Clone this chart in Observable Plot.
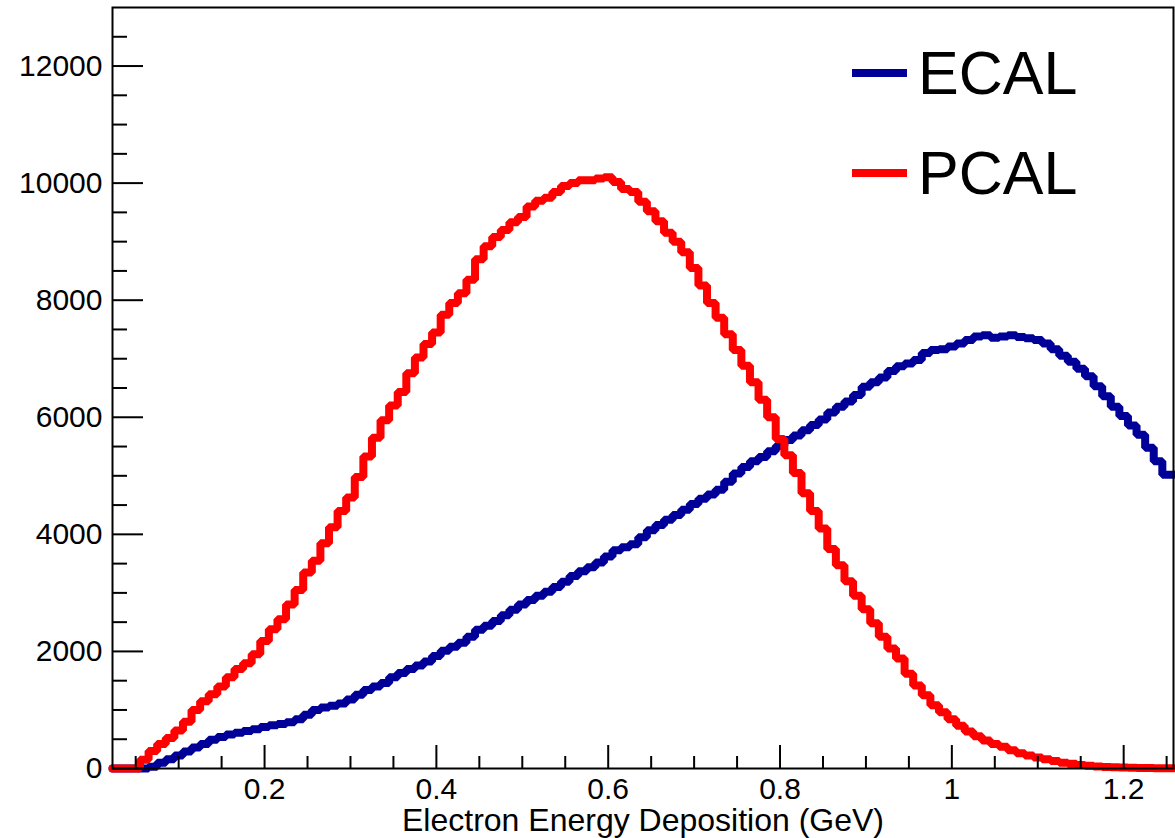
<!DOCTYPE html>
<html>
<head>
<meta charset="utf-8">
<script src="https://cdn.jsdelivr.net/npm/d3@7"></script>
<script src="https://cdn.jsdelivr.net/npm/@observablehq/plot@0.6"></script>
<style>
  html, body { margin: 0; padding: 0; background: white; }
  #wrap { position: relative; width: 1175px; height: 838px; font-family: "Liberation Sans", Arial, Helvetica, sans-serif; }
  .leg { position: absolute; left: 852px; width: 55px; height: 8px; }
  .legtxt { position: absolute; left: 918px; font-size: 61px; line-height: 61px; color: #000; white-space: nowrap; }
</style>
</head>
<body>
<div id="wrap"></div>
<script>
// Bin centres (GeV)
const energy = [
  0.03,0.04,0.05,0.06,0.07,0.08,0.09,0.10,0.11,0.12,
  0.13,0.14,0.15,0.16,0.17,0.18,0.19,0.20,0.21,0.22,
  0.23,0.24,0.25,0.26,0.27,0.28,0.29,0.30,0.31,0.32,
  0.33,0.34,0.35,0.36,0.37,0.38,0.39,0.40,0.41,0.42,
  0.43,0.44,0.45,0.46,0.47,0.48,0.49,0.50,0.51,0.52,
  0.53,0.54,0.55,0.56,0.57,0.58,0.59,0.60,0.61,0.62,
  0.63,0.64,0.65,0.66,0.67,0.68,0.69,0.70,0.71,0.72,
  0.73,0.74,0.75,0.76,0.77,0.78,0.79,0.80,0.81,0.82,
  0.83,0.84,0.85,0.86,0.87,0.88,0.89,0.90,0.91,0.92,
  0.93,0.94,0.95,0.96,0.97,0.98,0.99,1.00,1.01,1.02,
  1.03,1.04,1.05,1.06,1.07,1.08,1.09,1.10,1.11,1.12,
  1.13,1.14,1.15,1.16,1.17,1.18,1.19,1.20,1.21,1.22,
  1.23,1.24,1.25
];
const pcal = [
  0,0,0,150,300,420,520,650,800,1000,
  1150,1270,1400,1560,1700,1800,1950,2180,2380,2550,
  2800,3050,3350,3550,3850,4120,4400,4630,4980,5330,
  5650,5950,6200,6430,6750,7020,7250,7450,7750,7950,
  8120,8350,8700,8920,9080,9200,9330,9420,9600,9700,
  9750,9850,9950,10000,10050,10050,10080,10100,10020,9900,
  9850,9680,9520,9350,9150,9000,8820,8550,8250,7950,
  7700,7420,7150,6880,6600,6300,6000,5630,5350,5050,
  4700,4400,4100,3750,3470,3200,2950,2720,2480,2250,
  2050,1880,1620,1420,1250,1080,960,840,730,630,
  550,480,420,370,310,260,220,190,160,130,
  100,80,60,45,35,25,20,15,12,10,
  8,6,5
];
const ecal = [
  0,0,0,0,30,100,160,220,290,360,
  420,490,540,580,610,640,670,710,740,760,
  790,840,920,1000,1040,1070,1110,1180,1260,1340,
  1400,1460,1560,1630,1700,1760,1830,1920,2010,2080,
  2150,2250,2370,2440,2520,2620,2710,2800,2880,2950,
  3020,3100,3190,3290,3370,3440,3520,3620,3730,3780,
  3830,3950,4070,4160,4250,4330,4420,4520,4610,4680,
  4760,4900,5040,5150,5250,5320,5420,5510,5610,5690,
  5780,5870,5960,6080,6180,6270,6380,6520,6600,6680,
  6790,6870,6920,6980,7100,7150,7160,7210,7260,7320,
  7380,7400,7360,7380,7400,7370,7350,7320,7260,7160,
  7050,6950,6830,6700,6530,6360,6180,6020,5860,5700,
  5480,5250,5020
];
const seriesNames = ["ECAL", "PCAL"];
const seriesColors = ["#000099", "#ff0000"];
const xMajor = [0.2, 0.4, 0.6, 0.8, 1, 1.2];
const xMinor = [0.05,0.1,0.15,0.25,0.3,0.35,0.45,0.5,0.55,0.65,0.7,0.75,0.85,0.9,0.95,1.05,1.1,1.15,1.25];
const yMajor = [0, 2000, 4000, 6000, 8000, 10000, 12000];
const yMinor = [500,1000,1500,2500,3000,3500,4500,5000,5500,6500,7000,7500,8500,9000,9500,10500,11000,11500,12500];
const xDomain = [0.023, 1.258];
const yDomain = [0, 13000];
const xTitle = "Electron Energy Deposition (GeV)";

function rows(vals) {
  const r = energy.map((e, i) => ({e, c: vals[i]}));
  r.unshift({e: xDomain[0], c: vals[0]});
  r.push({e: xDomain[1], c: vals[vals.length - 1]});
  return r;
}

const chart = Plot.plot({
  width: 1175,
  height: 838,
  marginLeft: 112,
  marginRight: 2,
  marginTop: 7,
  marginBottom: 70,
  x: {domain: xDomain},
  y: {domain: yDomain},
  style: {fontFamily: "'Liberation Sans', Arial, Helvetica, sans-serif", background: "white", color: "black"},
  marks: [
    Plot.line(rows(ecal), {x: "e", y: "c", curve: "step", stroke: seriesColors[0], strokeWidth: 8, strokeLinejoin: "miter"}),
    Plot.line(rows(pcal), {x: "e", y: "c", curve: "step", stroke: seriesColors[1], strokeWidth: 8, strokeLinejoin: "miter"}),
    Plot.axisX(xMinor, {tickSize: -12, text: null, strokeWidth: 2, label: null}),
    Plot.axisX(xMajor, {tickSize: -23, text: null, strokeWidth: 2, label: null}),
    Plot.axisX(xMajor, {tickSize: 0, tickPadding: 9, fontSize: 30, tickFormat: d => String(d), label: null}),
    Plot.axisY(yMinor, {tickSize: -15, text: null, strokeWidth: 2, label: null}),
    Plot.axisY(yMajor, {tickSize: -31, text: null, strokeWidth: 2, label: null}),
    Plot.axisY(yMajor, {tickSize: 0, tickPadding: 10, fontSize: 30, tickFormat: d => String(d), label: null}),
    Plot.text([xTitle], {frameAnchor: "bottom", dy: 52, fontSize: 32, lineAnchor: "middle", fill: "black"}),
    Plot.frame({stroke: "black", strokeWidth: 2})
  ]
});

const wrap = document.getElementById("wrap");
wrap.appendChild(chart);
// Legend (ROOT TLegend inside the frame)
seriesNames.forEach((name, i) => {
  const sw = document.createElement("div");
  sw.className = "leg";
  sw.style.top = (69 + i * 100) + "px";
  sw.style.background = seriesColors[i];
  wrap.appendChild(sw);
  const t = document.createElement("div");
  t.className = "legtxt";
  t.style.top = (43 + i * 100) + "px";
  t.textContent = name;
  wrap.appendChild(t);
});
</script>
</body>
</html>
